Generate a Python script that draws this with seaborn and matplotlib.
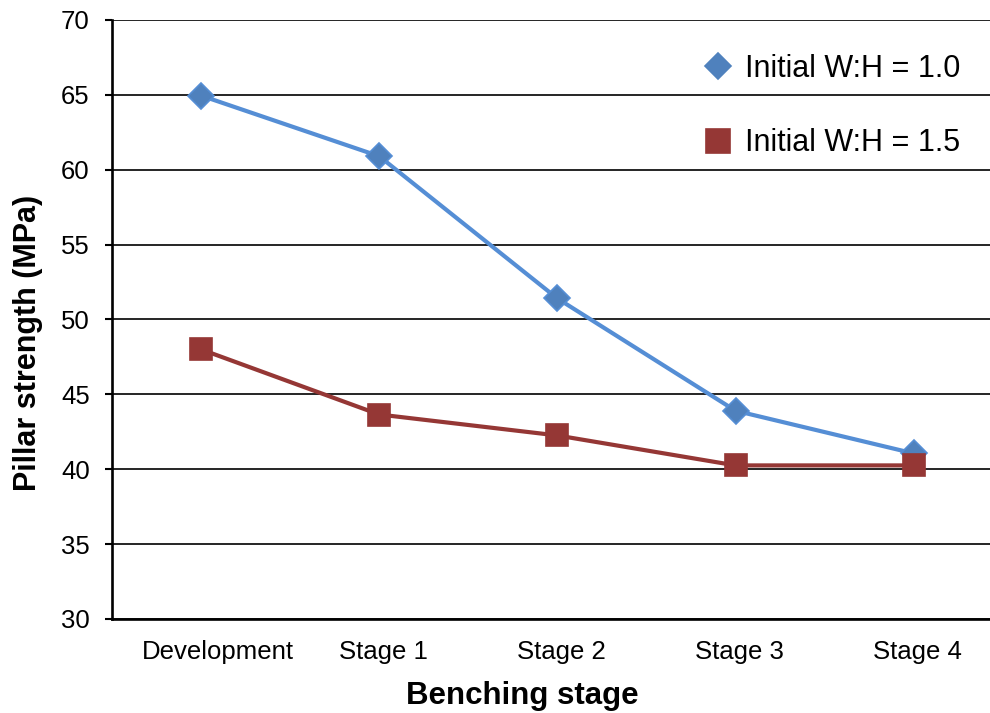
import matplotlib
matplotlib.use("Agg")
import matplotlib.pyplot as plt
import matplotlib.transforms as mtransforms
import seaborn as sns
import pandas as pd
import numpy as np

stages = ["Development", "Stage 1", "Stage 2", "Stage 3", "Stage 4"]
wh_10 = [64.95, 60.9, 51.4, 43.9, 41.05]
wh_15 = [48.0, 43.65, 42.25, 40.25, 40.25]
series_names = ["Initial W:H = 1.0", "Initial W:H = 1.5"]
yticks = [30, 35, 40, 45, 50, 55, 60, 65, 70]

sns.set_style("white")
plt.rcParams['font.family'] = ['Liberation Sans', 'DejaVu Sans']
plt.rcParams['text.color'] = 'black'
plt.rcParams['axes.labelcolor'] = 'black'
plt.rcParams['xtick.color'] = 'black'
plt.rcParams['ytick.color'] = 'black'

df = pd.DataFrame({
    "pos": list(range(len(stages))) * 2,
    "value": wh_10 + wh_15,
    "series": [series_names[0]] * len(stages) + [series_names[1]] * len(stages),
})

fig = plt.figure(figsize=(9.9, 7.13), dpi=100)
ax = fig.add_axes([0.113, 0.132, 0.9, 0.84])

line_colors = ["#558ED5", "#953735"]
marker_colors = ["#4F81BD", "#953735"]
markers = ["D", "s"]
sizes = [13, 16.5]
for i, name in enumerate(series_names):
    sub = df[df.series == name]
    sns.lineplot(data=sub, x="pos", y="value", ax=ax, color=line_colors[i],
                 linewidth=3, marker=markers[i], markersize=sizes[i],
                 markerfacecolor=marker_colors[i], markeredgecolor=line_colors[i],
                 markeredgewidth=1.2, label=name)

ax.set_xlim(-0.5, len(stages) - 0.5)
ax.set_ylim(30, 70)
ax.set_yticks(yticks)
ax.set_yticklabels([str(t) for t in yticks], fontsize=18.5)
ax.yaxis.grid(True, color="black", linewidth=1.2)
ax.set_axisbelow(True)

ax.set_xticks(range(len(stages)))
ax.set_xticklabels(stages, fontsize=18.5)
ax.set_xticks(np.arange(-0.5, len(stages), 1.0), minor=True)
ax.tick_params(axis="x", which="major", length=0, pad=15)
ax.tick_params(axis="x", which="minor", length=6, width=1.5, color="black", direction="out")
ax.tick_params(axis="y", which="major", length=5, width=1.5, color="black", direction="out", left=True, pad=11)

# small horizontal shifts of the category labels as in the original
label_shift_px = [17, 4, 4, 4, 4]
for lab, dx in zip(ax.get_xticklabels(), label_shift_px):
    lab.set_transform(lab.get_transform() + mtransforms.ScaledTranslation(dx / 100, 0, fig.dpi_scale_trans))

for s in ["top", "right"]:
    ax.spines[s].set_visible(False)
for s in ["left", "bottom"]:
    ax.spines[s].set_color("black")
    ax.spines[s].set_linewidth(1.9)

ax.set_xlabel("Benching stage", fontsize=22.5, fontweight="bold")
ax.xaxis.set_label_coords(0.461, -0.142)
ax.xaxis.label.set_va("baseline")
ax.set_ylabel("Pillar strength (MPa)", fontsize=22, fontweight="bold")
ax.yaxis.set_label_coords(-0.0937, 0.46)
ax.yaxis.label.set_va("center")

leg = ax.legend(loc="upper left", bbox_to_anchor=(0.7253, 0.9243),
                bbox_transform=fig.transFigure, frameon=False,
                fontsize=22, handlelength=0, handletextpad=0.88, labelspacing=1.45,
                borderpad=0, borderaxespad=0, markerscale=1.05)
for h in leg.legend_handles:
    h.set_linestyle("None")
    h.set_markeredgecolor(h.get_markerfacecolor())

fig.savefig("out.png", dpi=100)
